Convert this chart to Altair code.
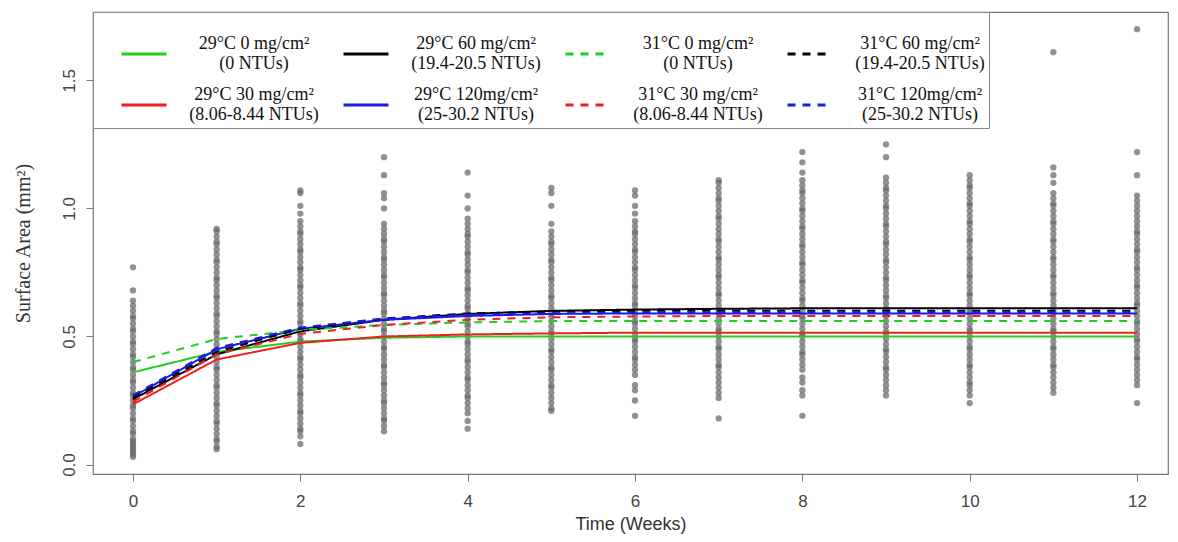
import altair as alt
import pandas as pd

# ---------------- data ----------------
weeks = list(range(13))

w0 = [0.77, 0.68, 0.64, 0.62, 0.60, 0.58, 0.57, 0.55, 0.53, 0.52, 0.50, 0.48, 0.47, 0.45,
      0.43, 0.42, 0.40, 0.38, 0.37, 0.35, 0.33, 0.32, 0.30, 0.28, 0.27, 0.25, 0.23, 0.22,
      0.20, 0.18, 0.17, 0.15, 0.13, 0.12, 0.10, 0.09, 0.08, 0.07, 0.06, 0.05, 0.04, 0.03]
w1 = [0.92, 0.91, 0.89, 0.87, 0.86, 0.84, 0.82, 0.80, 0.79, 0.77, 0.75, 0.73, 0.72, 0.70,
      0.68, 0.66, 0.65, 0.63, 0.61, 0.59, 0.58, 0.56, 0.54, 0.52, 0.51, 0.49, 0.47, 0.45,
      0.44, 0.42, 0.40, 0.38, 0.37, 0.35, 0.33, 0.31, 0.30, 0.28, 0.26, 0.24, 0.23, 0.21,
      0.19, 0.17, 0.16, 0.14, 0.12, 0.10, 0.09, 0.07, 0.06]
w2 = [1.07, 1.06, 1.01, 0.98, 0.95, 0.93, 0.91, 0.90, 0.88, 0.86, 0.84, 0.83, 0.81, 0.79,
      0.77, 0.76, 0.74, 0.72, 0.70, 0.69, 0.67, 0.65, 0.63, 0.62, 0.60, 0.58, 0.56, 0.55,
      0.53, 0.51, 0.49, 0.48, 0.46, 0.44, 0.42, 0.41, 0.39, 0.37, 0.35, 0.34, 0.32, 0.30,
      0.28, 0.27, 0.25, 0.23, 0.21, 0.20, 0.18, 0.16, 0.14, 0.13, 0.11, 0.08]
w3 = [1.20, 1.13, 1.06, 1.04, 1.00, 0.94, 0.92, 0.90, 0.88, 0.87, 0.85, 0.83, 0.81, 0.80,
      0.78, 0.76, 0.74, 0.73, 0.71, 0.69, 0.67, 0.66, 0.64, 0.62, 0.60, 0.59, 0.57, 0.55,
      0.53, 0.52, 0.50, 0.48, 0.46, 0.45, 0.43, 0.41, 0.39, 0.38, 0.36, 0.34, 0.32, 0.31,
      0.29, 0.27, 0.25, 0.24, 0.22, 0.20, 0.18, 0.17, 0.15, 0.13]
w4 = [1.14, 1.05, 1.00, 0.96, 0.94, 0.92, 0.90, 0.89, 0.87, 0.85, 0.83, 0.82, 0.80, 0.78,
      0.76, 0.75, 0.73, 0.71, 0.69, 0.68, 0.66, 0.64, 0.62, 0.61, 0.59, 0.57, 0.55, 0.54,
      0.52, 0.50, 0.48, 0.47, 0.45, 0.43, 0.41, 0.40, 0.38, 0.36, 0.34, 0.33, 0.31, 0.29,
      0.27, 0.26, 0.24, 0.22, 0.20, 0.17, 0.14]
w5 = [1.08, 1.06, 1.01, 0.94, 0.91, 0.89, 0.87, 0.86, 0.84, 0.82, 0.80, 0.79, 0.77, 0.75,
      0.73, 0.72, 0.70, 0.68, 0.66, 0.65, 0.63, 0.61, 0.59, 0.58, 0.56, 0.54, 0.52, 0.51,
      0.49, 0.47, 0.45, 0.44, 0.42, 0.40, 0.38, 0.37, 0.35, 0.33, 0.31, 0.30, 0.28, 0.26,
      0.24, 0.22, 0.21]
w6 = [1.07, 1.05, 1.01, 0.98, 0.95, 0.93, 0.91, 0.90, 0.88, 0.86, 0.84, 0.83, 0.81, 0.79,
      0.77, 0.76, 0.74, 0.72, 0.70, 0.69, 0.67, 0.65, 0.63, 0.62, 0.60, 0.58, 0.56, 0.55,
      0.53, 0.51, 0.49, 0.48, 0.46, 0.44, 0.42, 0.41, 0.39, 0.37, 0.35, 0.31, 0.29, 0.25,
      0.19]
w7 = [1.11, 1.10, 1.08, 1.06, 1.04, 1.03, 1.01, 0.99, 0.97, 0.96, 0.94, 0.92, 0.90, 0.88,
      0.87, 0.85, 0.83, 0.81, 0.80, 0.78, 0.76, 0.74, 0.73, 0.71, 0.69, 0.67, 0.66, 0.64,
      0.62, 0.60, 0.59, 0.57, 0.55, 0.53, 0.52, 0.50, 0.48, 0.46, 0.45, 0.43, 0.41, 0.39,
      0.38, 0.36, 0.34, 0.32, 0.30, 0.28, 0.26, 0.18]
w8 = [1.22, 1.18, 1.14, 1.11, 1.09, 1.07, 1.06, 1.04, 1.02, 1.00, 0.99, 0.97, 0.95, 0.93,
      0.92, 0.90, 0.88, 0.86, 0.85, 0.83, 0.81, 0.79, 0.78, 0.76, 0.74, 0.72, 0.71, 0.69,
      0.67, 0.65, 0.64, 0.62, 0.60, 0.58, 0.57, 0.55, 0.53, 0.51, 0.50, 0.48, 0.46, 0.44,
      0.43, 0.41, 0.39, 0.37, 0.34, 0.32, 0.29, 0.27, 0.19]
w9 = [1.25, 1.20, 1.12, 1.10, 1.08, 1.07, 1.05, 1.03, 1.01, 1.00, 0.98, 0.96, 0.94, 0.93,
      0.91, 0.89, 0.87, 0.86, 0.84, 0.82, 0.80, 0.79, 0.77, 0.75, 0.73, 0.72, 0.70, 0.68,
      0.66, 0.65, 0.63, 0.61, 0.59, 0.58, 0.56, 0.54, 0.52, 0.51, 0.49, 0.47, 0.45, 0.44,
      0.42, 0.40, 0.38, 0.37, 0.35, 0.33, 0.31, 0.29, 0.27]
w10 = [1.13, 1.11, 1.09, 1.08, 1.06, 1.04, 1.02, 1.01, 0.99, 0.97, 0.95, 0.94, 0.92, 0.90,
       0.88, 0.87, 0.85, 0.83, 0.81, 0.80, 0.78, 0.76, 0.74, 0.73, 0.71, 0.69, 0.67, 0.66,
       0.64, 0.62, 0.60, 0.59, 0.57, 0.55, 0.53, 0.52, 0.50, 0.48, 0.46, 0.45, 0.43, 0.41,
       0.39, 0.38, 0.36, 0.34, 0.32, 0.31, 0.29, 0.27, 0.24]
w11 = [1.61, 1.16, 1.13, 1.10, 1.06, 1.04, 1.02, 1.01, 0.99, 0.97, 0.95, 0.94, 0.92, 0.90,
       0.88, 0.87, 0.85, 0.83, 0.81, 0.80, 0.78, 0.76, 0.74, 0.73, 0.71, 0.69, 0.67, 0.66,
       0.64, 0.62, 0.60, 0.59, 0.57, 0.55, 0.53, 0.52, 0.50, 0.48, 0.46, 0.45, 0.43, 0.41,
       0.39, 0.38, 0.36, 0.34, 0.32, 0.30, 0.28]
w12 = [1.70, 1.22, 1.13, 1.05, 1.03, 1.01, 0.99, 0.97, 0.95, 0.93, 0.91, 0.90, 0.88, 0.86,
       0.84, 0.83, 0.81, 0.79, 0.77, 0.76, 0.74, 0.72, 0.70, 0.69, 0.67, 0.65, 0.63, 0.62,
       0.60, 0.58, 0.56, 0.55, 0.53, 0.51, 0.49, 0.48, 0.46, 0.44, 0.42, 0.41, 0.39, 0.37,
       0.35, 0.33, 0.31, 0.24]
point_lists = [w0, w1, w2, w3, w4, w5, w6, w7, w8, w9, w10, w11, w12]

# fitted curves, one value per week
g29 = [0.36, 0.44, 0.48, 0.495, 0.50, 0.50, 0.50, 0.50, 0.50, 0.50, 0.50, 0.50, 0.50]
r29 = [0.235, 0.41, 0.475, 0.50, 0.508, 0.512, 0.515, 0.515, 0.515, 0.515, 0.515, 0.515, 0.515]
k29 = [0.255, 0.43, 0.52, 0.565, 0.588, 0.60, 0.605, 0.608, 0.61, 0.61, 0.61, 0.61, 0.61]
b29 = [0.265, 0.45, 0.53, 0.565, 0.58, 0.588, 0.59, 0.59, 0.59, 0.59, 0.59, 0.59, 0.59]
g31 = [0.40, 0.49, 0.525, 0.545, 0.555, 0.56, 0.56, 0.56, 0.56, 0.56, 0.56, 0.56, 0.56]
r31 = [0.245, 0.43, 0.51, 0.545, 0.565, 0.575, 0.578, 0.58, 0.58, 0.58, 0.58, 0.58, 0.58]
k31 = [0.26, 0.44, 0.53, 0.57, 0.59, 0.597, 0.60, 0.60, 0.60, 0.60, 0.60, 0.60, 0.60]
b31 = [0.27, 0.455, 0.535, 0.57, 0.585, 0.59, 0.594, 0.595, 0.595, 0.595, 0.595, 0.595, 0.595]

# legend order (column-major: 2 rows x 4 columns)
series_names = [
    "29°C 0 mg/cm²|(0 NTUs)",
    "29°C 30 mg/cm²|(8.06-8.44 NTUs)",
    "29°C 60 mg/cm²|(19.4-20.5 NTUs)",
    "29°C 120mg/cm²|(25-30.2 NTUs)",
    "31°C 0 mg/cm²|(0 NTUs)",
    "31°C 30 mg/cm²|(8.06-8.44 NTUs)",
    "31°C 60 mg/cm²|(19.4-20.5 NTUs)",
    "31°C 120mg/cm²|(25-30.2 NTUs)",
]
series_colors = ["#22cc22", "#ee2020", "#000000", "#1a1aee",
                 "#22cc22", "#ee2020", "#000000", "#1a1aee"]
series_dash = [[1, 0], [1, 0], [1, 0], [1, 0], [8, 7], [8, 7], [8, 7], [8, 7]]
series_values = [g29, r29, k29, b29, g31, r31, k31, b31]

pts_df = pd.DataFrame([{"week": w, "area": v} for w, vals in zip(weeks, point_lists) for v in vals])
line_df = pd.DataFrame([{"series": s, "week": w, "area": v}
                        for s, vals in zip(series_names, series_values) for w, v in zip(weeks, vals)])

# ---------------- chart ----------------
xscale = alt.Scale(domain=[-0.478, 12.37], nice=False, zero=False)
yscale = alt.Scale(domain=[-0.037, 1.767], nice=False, zero=False)

xaxis = alt.Axis(values=[0, 2, 4, 6, 8, 10, 12], format="d", labelPadding=12,
                 titleFont="Liberation Sans", titleFontSize=18, titlePadding=6)
yaxis = alt.Axis(values=[0, 0.5, 1.0, 1.5], format=".1f", labelAngle=-90,
                 labelAlign="center", labelBaseline="bottom", labelPadding=8,
                 titleFont="Liberation Serif", titleFontSize=20, titlePadding=27)

legend = alt.Legend(
    title=" ", titleFontSize=8, titlePadding=6,
    orient="none", legendX=0, legendY=0, columns=4,
    labelExpr="split(datum.label, '|')",
    labelFont="Liberation Serif", labelFontSize=18, labelColor="#111",
    labelAlign="center", labelBaseline="line-bottom", labelOffset=86, labelLimit=0,
    symbolType="stroke", symbolSize=2025, symbolStrokeWidth=3, symbolOffset=23,
    columnPadding=0, rowPadding=8, padding=4,
    fillColor="white", strokeColor="#888",
)

points = alt.Chart(pts_df).mark_circle(size=40, color="#666666", opacity=0.72).encode(
    x=alt.X("week:Q", scale=xscale, axis=xaxis, title="Time (Weeks)"),
    y=alt.Y("area:Q", scale=yscale, axis=yaxis, title="Surface Area (mm²)"),
)

lines = alt.Chart(line_df).mark_line(strokeWidth=2).encode(
    x=alt.X("week:Q", scale=xscale, title="Time (Weeks)"),
    y=alt.Y("area:Q", scale=yscale, title="Surface Area (mm²)"),
    color=alt.Color("series:N", scale=alt.Scale(domain=series_names, range=series_colors), legend=legend),
    strokeDash=alt.StrokeDash("series:N", scale=alt.Scale(domain=series_names, range=series_dash), legend=legend),
)

chart = alt.layer(points, lines).properties(
    width=1075, height=462,
    autosize=alt.AutoSizeParams(type="none"),
    padding={"left": 85, "top": 4, "right": 1, "bottom": 60},
).configure_view(stroke="#777777", strokeWidth=1.2).configure_axis(
    grid=False, domain=False, tickColor="#777777", tickSize=7,
    labelColor="#444444", labelFont="Liberation Sans", labelFontSize=17,
    titleColor="#333333", titleFontWeight="normal",
)

chart.save("out.html", embed_options={"renderer": "svg", "actions": False})
